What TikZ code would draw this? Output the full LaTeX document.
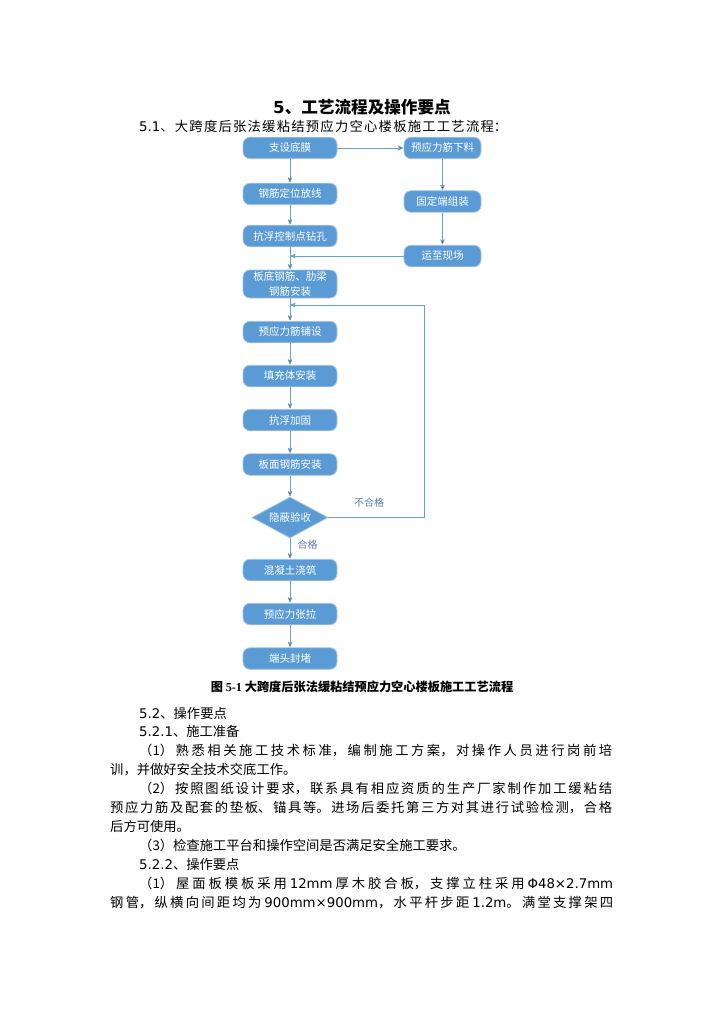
\documentclass[tikz,border=0pt]{standalone}
\usepackage{fontspec}
\setmainfont{Noto Sans CJK SC}
\newfontfamily\dv{DejaVu Sans}
\newfontfamily\tnr{Liberation Serif}
\usetikzlibrary{arrows,shapes.geometric}
\XeTeXlinebreaklocale "zh"
\XeTeXlinebreakskip=0pt plus 1fil
\definecolor{boxblue}{HTML}{5B9BD5}
\definecolor{boxedge}{HTML}{A9C5E5}
\definecolor{lineblue}{HTML}{6A9FD5}
\definecolor{lblblue}{HTML}{5A7EAD}
\newcommand\jtext[1]{\parfillskip=0pt\noindent #1\par}

\begin{document}
\begin{tikzpicture}[x=1pt,y=-1pt,>=stealth',
    flow/.style={->,draw=lineblue,line width=0.8pt,shorten >=0.5pt},
    body/.style={anchor=base west,inner sep=0pt,font=\fontsize{13.3}{18.9}\selectfont},
    jline/.style={body,text width=#1,align=justify}]
  \tikzstyle{proc}=[rectangle,rounded corners=7pt,fill=boxblue,draw=boxedge,
                    line width=0.8pt,minimum width=94pt,minimum height=21.5pt,
                    inner sep=0pt,text=white,font=\fontsize{10.5}{15}\selectfont]
  \tikzstyle{procr}=[proc,minimum width=77pt]
  \tikzstyle{check}=[proc,diamond,rounded corners=0pt,aspect=1.83,
                     minimum width=76pt,minimum height=41pt]
  \tikzstyle{lbl}=[text=lblblue,font=\fontsize{10}{12}\selectfont]

  \path[fill=white] (0,0) rectangle (724,1024);
  \useasboundingbox (0,0) rectangle (724,1024);

  % headings
  \node[font=\fontsize{16.6}{19}\selectfont\bfseries] (title) at (362,107)
       {{\dv 5}、工艺流程及操作要点};
  \node[jline=368pt] (sub) at (139,132)
       {\jtext{{\dv 5.1}、大跨度后张法缓粘结预应力空心楼板施工工艺流程：}};

  % main column
  \node[proc]  (zs) at (290,148)   {支设底膜};
  \node[proc]  (gj) at (290,194)   {钢筋定位放线};
  \node[proc]  (kz) at (290,236)   {抗浮控制点钻孔};
  \node[proc,minimum height=28pt,align=center]
               (bd) at (290,284)   {板底钢筋、肋梁\\钢筋安装};
  \node[proc]  (pl) at (290,332)   {预应力筋铺设};
  \node[proc]  (tc) at (290,376)   {填充体安装};
  \node[proc]  (kf) at (290,420)   {抗浮加固};
  \node[proc]  (bm) at (290,464.5) {板面钢筋安装};
  \node[check] (ys) at (290,517.5) {隐蔽验收};
  \node[proc]  (hn) at (290,570)   {混凝土浇筑};
  \node[proc]  (zl) at (290,614)   {预应力张拉};
  \node[proc]  (dt) at (290,658.5) {端头封堵};

  % side column
  \node[procr] (xl) at (442.5,148)   {预应力筋下料};
  \node[procr] (gd) at (442.5,201.5) {固定端组装};
  \node[procr] (yz) at (442.5,256)   {运至现场};

  \coordinate (fb) at (424,305);

  \path[flow] (zs) edge (gj)
              (gj) edge (kz)
              (kz) edge (bd)
              (bd) edge (pl)
              (pl) edge (tc)
              (tc) edge (kf)
              (kf) edge (bm)
              (bm) edge (ys)
              (ys) edge node[lbl,right=4pt,pos=0.3] {合格} (hn)
              (hn) edge (zl)
              (zl) edge (dt)
              (zs) edge (xl)
              (xl) edge (gd)
              (gd) edge (yz);
  \draw[flow] (yz) -- (yz -| kz);
  \draw[flow] (ys) -| (fb) -- (fb -| bd);
  \node[lbl] (bhg) at (369,503) {不合格};

  % caption
  \node[font=\fontsize{12.2}{14}\selectfont\bfseries] (cap) at (362,687)
       {图 {\tnr 5-1} 大跨度后张法缓粘结预应力空心楼板施工工艺流程};

  % text
  \node[body] (t0) at (139,718)   {{\dv 5.2}、操作要点};
  \node[body] (t1) at (139,736.9) {{\dv 5.2.1}、施工准备};
  \node[jline=473pt] (t2) at (139,755.8)
       {\jtext{（1）熟悉相关施工技术标准，编制施工方案，对操作人员进行岗前培}};
  \node[body] (t3) at (110,774.7) {训，并做好安全技术交底工作。};
  \node[jline=473pt] (t4) at (139,793.6)
       {\jtext{（2）按照图纸设计要求，联系具有相应资质的生产厂家制作加工缓粘结}};
  \node[jline=502pt] (t5) at (110,812.5)
       {\jtext{预应力筋及配套的垫板、锚具等。进场后委托第三方对其进行试验检测，合格}};
  \node[body] (t6) at (110,831.4) {后方可使用。};
  \node[body] (t7) at (139,850.3) {（3）检查施工平台和操作空间是否满足安全施工要求。};
  \node[body] (t8) at (139,869.2) {{\dv 5.2.2}、操作要点};
  \node[jline=474pt] (t9) at (139,888.1)
       {\jtext{（1）屋面板模板采用 {\dv 12mm} 厚木胶合板，支撑立柱采用 {\dv Φ48×2.7mm}}};
  \node[jline=503pt] (t10) at (110,907)
       {\jtext{钢管，纵横向间距均为 {\dv 900mm×900mm}，水平杆步距 {\dv 1.2m}。满堂支撑架四}};
\end{tikzpicture}
\end{document}
